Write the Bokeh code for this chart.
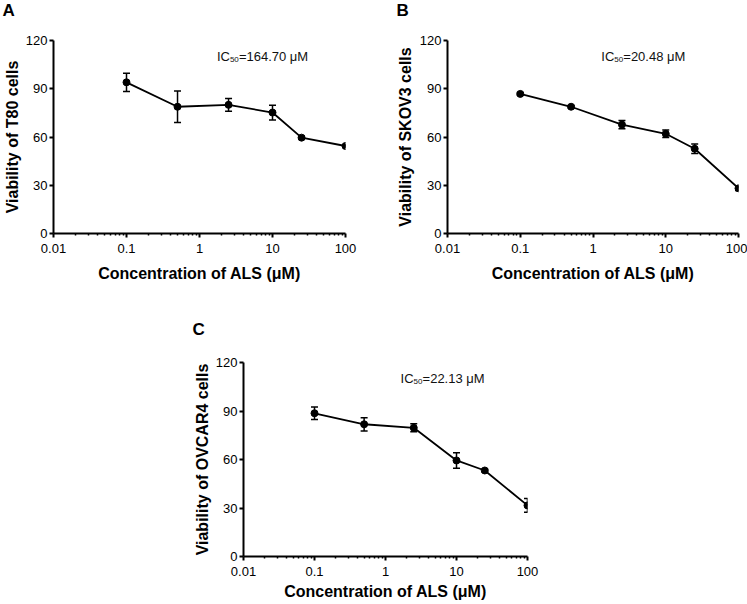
from bokeh.plotting import figure
from bokeh.models import (ColumnDataSource, Whisker, TeeHead, FixedTicker, Label,
                          Range1d, Spacer, Title)
from bokeh.layouts import row, column
from bokeh.embed import file_html
from bokeh.resources import INLINE

# ---------------- data ----------------
conc = [0.1, 0.5, 2.5, 10, 25, 100]

t80_mean = [94.0, 78.8, 80.0, 75.2, 59.6, 54.4]
t80_err = [5.7, 9.8, 4.0, 4.6, 0.8, 0.8]

skov3_mean = [86.8, 78.8, 67.7, 62.0, 52.7, 28.1]
skov3_err = [0.8, 0.8, 2.5, 2.3, 3.0, 1.4]

ovcar4_mean = [88.6, 81.8, 79.6, 59.4, 53.2, 31.6]
ovcar4_err = [3.8, 4.1, 2.5, 4.8, 0.8, 4.2]

x_ticks = [0.01, 0.1, 1, 10, 100]
x_tick_labels = ["0.01", "0.1", "1", "10", "100"]
x_minor = [0.02, 0.03, 0.04, 0.05, 0.06, 0.07, 0.08, 0.09,
           0.2, 0.3, 0.4, 0.5, 0.6, 0.7, 0.8, 0.9,
           2, 3, 4, 5, 6, 7, 8, 9,
           20, 30, 40, 50, 60, 70, 80, 90]
y_ticks = [0, 30, 60, 90, 120]

panel_letters = ["A", "B", "C"]
y_labels = ["Viability of T80 cells", "Viability of SKOV3 cells",
            "Viability of OVCAR4 cells"]
ic50_values = ["164.70", "20.48", "22.13"]
x_label = "Concentration of ALS (\u03bcM)"

FONT = "Liberation Sans"


def make_panel(mean, err, letter, ylabel, ic50, ann_x, width, height,
               ml, mr, mt, mb, gap_size, gap_standoff, xlab_standoff,
               ylab_standoff):
    p = figure(width=width, height=height, x_axis_type="log",
               x_range=Range1d(0.01, 100), y_range=Range1d(0, 120),
               output_backend="svg", toolbar_location=None,
               min_border_left=ml, min_border_right=mr,
               min_border_top=mt, min_border_bottom=mb,
               title=None)
    # blank title next to the frame, then the panel letter above it
    p.add_layout(Title(text=" ", text_font=FONT, text_font_size=gap_size,
                       text_font_style="bold", standoff=gap_standoff), "above")
    p.add_layout(Title(text=letter, text_font=FONT, text_font_size="17px",
                       text_font_style="bold", text_color="black",
                       align="left", vertical_align="top", offset=-51,
                       standoff=0), "above")

    p.xgrid.visible = False
    p.ygrid.visible = False
    p.outline_line_color = None

    xa = p.xaxis[0]
    xa.ticker = FixedTicker(ticks=x_ticks, minor_ticks=x_minor)
    xa.major_label_overrides = dict(zip(x_ticks, x_tick_labels))
    ya = p.yaxis[0]
    ya.ticker = FixedTicker(ticks=y_ticks, minor_ticks=[])

    for ax in (xa, ya):
        ax.axis_line_width = 2
        ax.axis_line_color = "black"
        ax.major_tick_line_width = 2
        ax.major_tick_line_color = "black"
        ax.major_tick_in = 0
        ax.major_tick_out = 4
        ax.minor_tick_line_width = 1.5
        ax.minor_tick_line_color = "black"
        ax.minor_tick_in = 0
        ax.minor_tick_out = 2
        ax.major_label_text_font = FONT
        ax.major_label_text_font_size = "13px"
        ax.major_label_text_color = "black"
        ax.axis_label_text_font = FONT
        ax.axis_label_text_font_size = "16px"
        ax.axis_label_text_font_style = "bold"
        ax.axis_label_text_color = "black"

    xa.axis_label = x_label
    xa.major_label_standoff = 6
    xa.axis_label_standoff = xlab_standoff
    ya.axis_label = ylabel
    ya.major_label_standoff = 2
    ya.axis_label_standoff = ylab_standoff

    lo = [m - e for m, e in zip(mean, err)]
    hi = [m + e for m, e in zip(mean, err)]
    src = ColumnDataSource(dict(x=conc, y=mean, lo=lo, hi=hi))

    p.line("x", "y", source=src, line_width=1.8, line_color="black")
    w = Whisker(source=src, base="x", lower="lo", upper="hi",
                line_width=1.5, line_color="black",
                upper_head=TeeHead(size=7, line_width=1.5, line_color="black"),
                lower_head=TeeHead(size=7, line_width=1.5, line_color="black"))
    p.add_layout(w)
    p.scatter("x", "y", source=src, size=7, fill_color="black",
              line_color="black")

    ann_y = 110
    p.add_layout(Label(x=ann_x, y=ann_y, text="IC", text_font=FONT,
                       text_font_size="13px", text_baseline="alphabetic",
                       text_color="#111111"))
    p.add_layout(Label(x=ann_x, y=ann_y, x_offset=13, y_offset=-3, text="50",
                       text_font=FONT, text_font_size="8px",
                       text_baseline="alphabetic", text_color="#111111"))
    p.add_layout(Label(x=ann_x, y=ann_y, x_offset=22,
                       text="=" + ic50 + " \u03bcM", text_font=FONT,
                       text_font_size="13px", text_baseline="alphabetic",
                       text_color="#111111"))
    return p


pA = make_panel(t80_mean, t80_err, panel_letters[0], y_labels[0], ic50_values[0],
                1.73, 393, 300, 52, 48, 40, 67, "15px", 0, 9, 2)
pB = make_panel(skov3_mean, skov3_err, panel_letters[1], y_labels[1], ic50_values[1],
                1.3, 354, 300, 53, 9, 40, 67, "15px", 0, 9, 3)
pC = make_panel(ovcar4_mean, ovcar4_err, panel_letters[2], y_labels[2], ic50_values[2],
                1.63, 385, 304, 52, 48, 62, 48, "17px", 1, 4, 2)

layout = column(row(pA, pB), row(Spacer(width=190, height=304), pC))

open("out.html", "w").write(file_html(layout, INLINE))
